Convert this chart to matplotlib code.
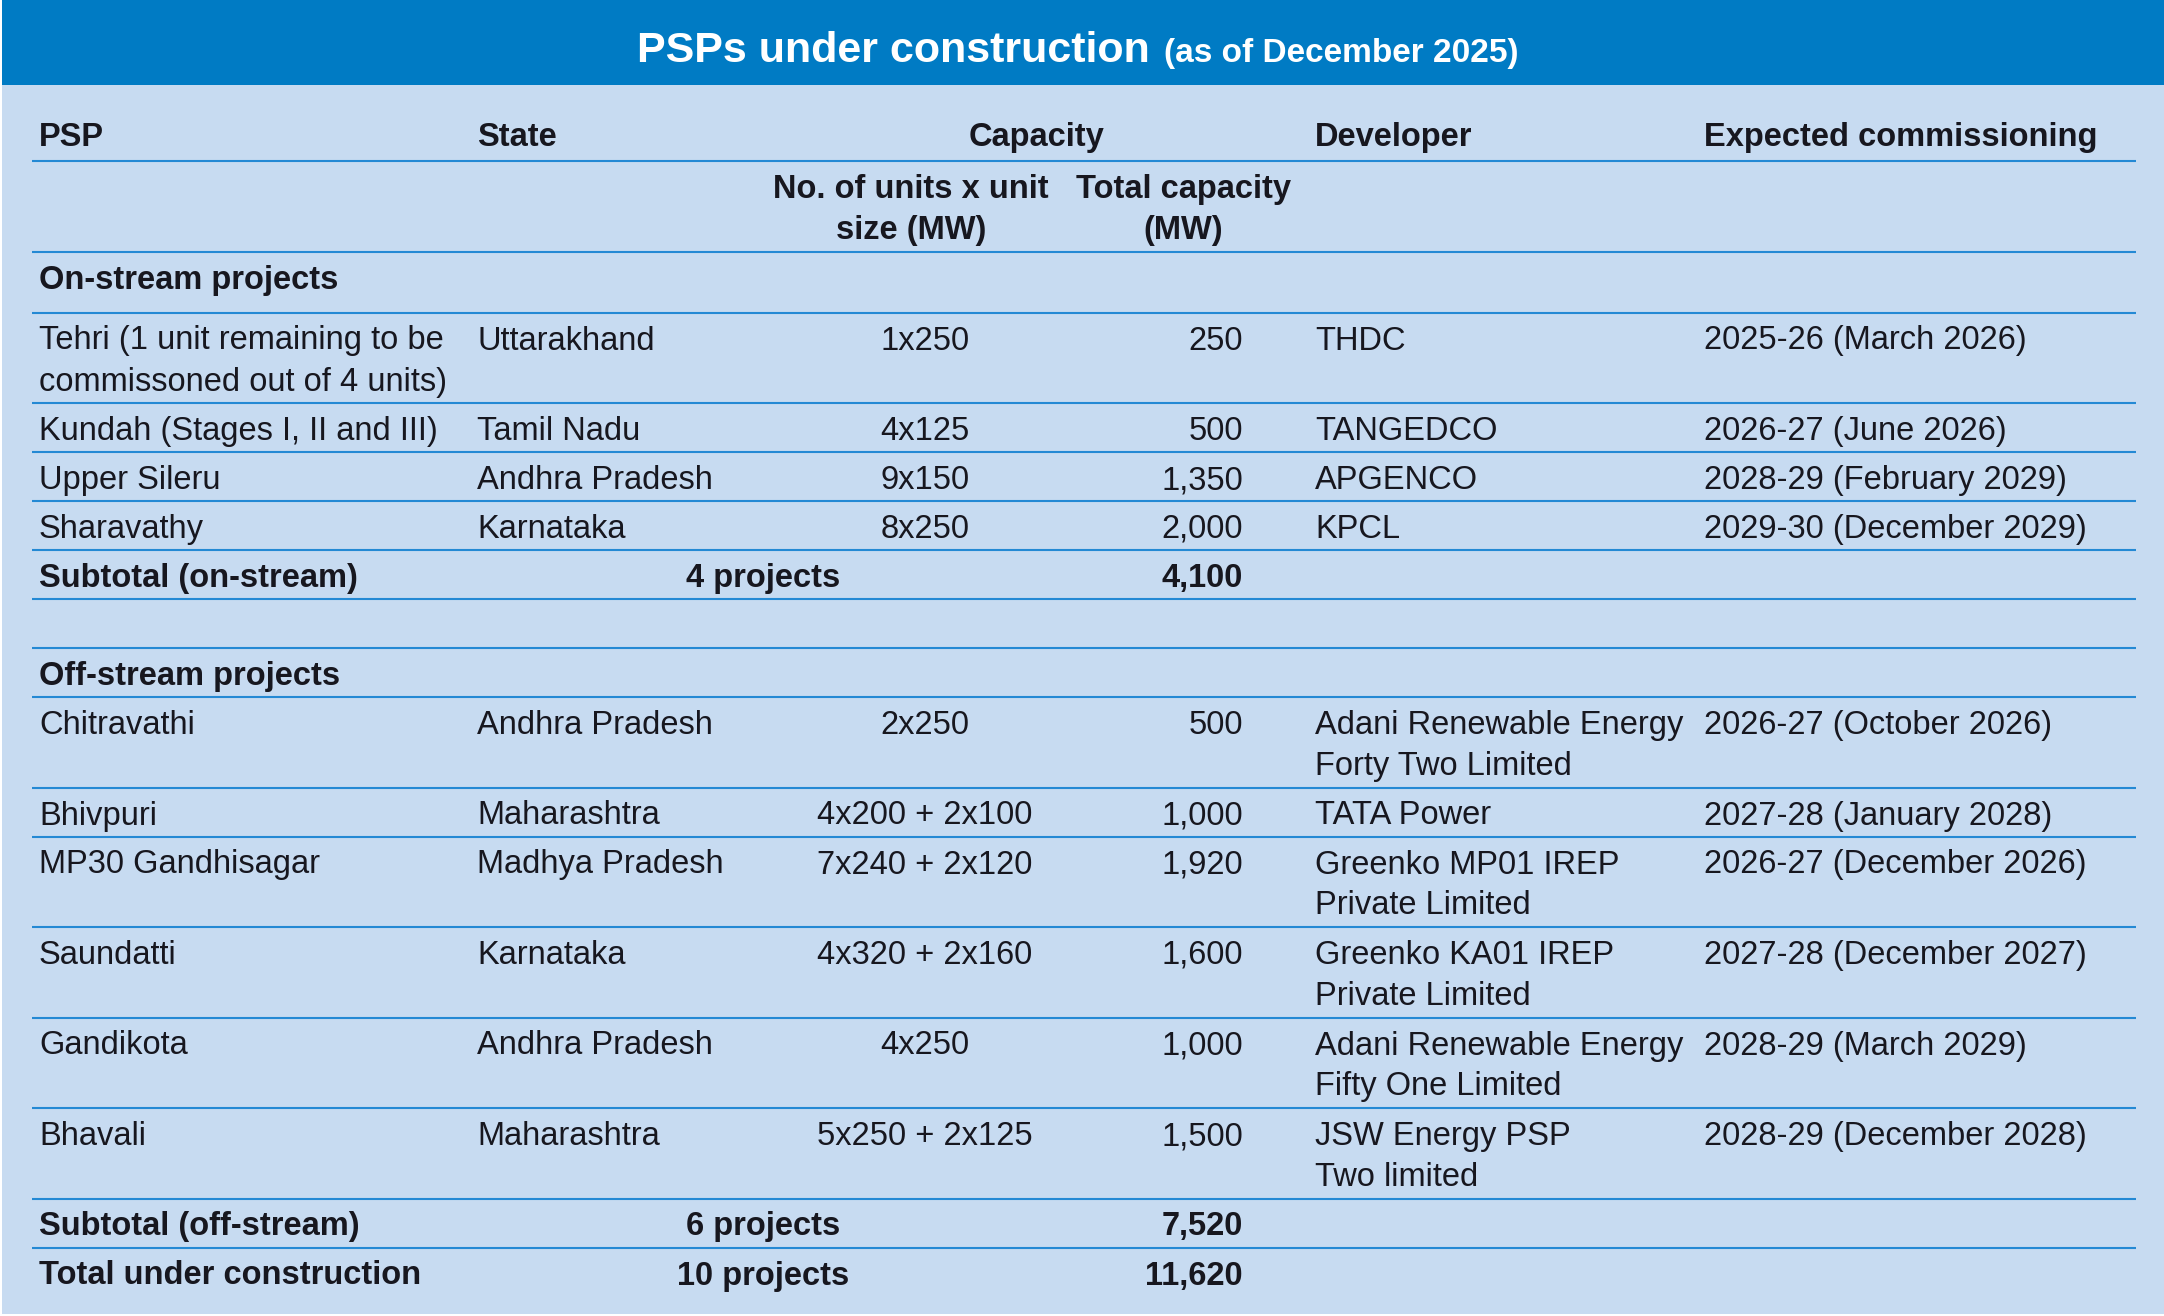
import matplotlib
matplotlib.use("Agg")
import matplotlib.pyplot as plt
from matplotlib.patches import Rectangle

# -----------------------------
# Table data
# -----------------------------
on_psp = ["Tehri (1 unit remaining to be\ncommissoned out of 4 units)",
          "Kundah (Stages I, II and III)", "Upper Sileru", "Sharavathy"]
on_state = ["Uttarakhand", "Tamil Nadu", "Andhra Pradesh", "Karnataka"]
on_units = ["1x250", "4x125", "9x150", "8x250"]
on_capacity = [250, 500, 1350, 2000]
on_developer = ["THDC", "TANGEDCO", "APGENCO", "KPCL"]
on_commissioning = ["2025-26 (March 2026)", "2026-27 (June 2026)",
                    "2028-29 (February 2029)", "2029-30 (December 2029)"]

off_psp = ["Chitravathi", "Bhivpuri", "MP30 Gandhisagar", "Saundatti",
           "Gandikota", "Bhavali"]
off_state = ["Andhra Pradesh", "Maharashtra", "Madhya Pradesh", "Karnataka",
             "Andhra Pradesh", "Maharashtra"]
off_units = ["2x250", "4x200 + 2x100", "7x240 + 2x120", "4x320 + 2x160",
             "4x250", "5x250 + 2x125"]
off_capacity = [500, 1000, 1920, 1600, 1000, 1500]
off_developer = ["Adani Renewable Energy\nForty Two Limited", "TATA Power",
                 "Greenko MP01 IREP\nPrivate Limited",
                 "Greenko KA01 IREP\nPrivate Limited",
                 "Adani Renewable Energy\nFifty One Limited",
                 "JSW Energy PSP\nTwo limited"]
off_commissioning = ["2026-27 (October 2026)", "2027-28 (January 2028)",
                     "2026-27 (December 2026)", "2027-28 (December 2027)",
                     "2028-29 (March 2029)", "2028-29 (December 2028)"]

headers = ["PSP", "State", "Capacity", "Developer", "Expected commissioning"]
sub_headers = ["No. of units x unit\nsize (MW)", "Total capacity\n(MW)"]

# -----------------------------
# Style
# -----------------------------
W, H = 2164, 1316
BAR = "#007bc4"
BG = "#c7dbf1"
RULE = "#2489d4"
INK = "#17171f"
FS = 23.5
FONT = ["Liberation Sans", "DejaVu Sans"]

X_PSP, X_STATE, X_UNITS, X_CAP, X_DEV, X_EXP = 39, 477, 925, 1243, 1315, 1704
X_PROJ = 763
LINE_L, LINE_R = 32, 2136
ROW1, ROW2, LEAD = 49, 90.5, 41

fig = plt.figure(figsize=(W / 100, H / 100), dpi=100)
fig.patch.set_facecolor("white")
ax = fig.add_axes([0, 0, 1, 1])
ax.set_xlim(0, W)
ax.set_ylim(H, 0)
ax.axis("off")

ax.add_patch(Rectangle((2, 0), W - 2, H - 2, facecolor=BG, edgecolor="none"))
ax.add_patch(Rectangle((2, 0), W - 2, 85, facecolor=BAR, edgecolor="none"))

# title: no condensed face installed, so a smaller bold face keeps the width
ax.text(1150, 62, "PSPs under construction", family=FONT, weight="bold",
        fontsize=31, color="white", ha="right", va="baseline")
ax.text(1164, 62, "(as of December 2025)", family=FONT, weight="bold",
        fontsize=24, color="white", ha="left", va="baseline")


def cell(x, top, txt, ha="left", bold=False):
    for i, line in enumerate(str(txt).split("\n")):
        ax.text(x, top + 37 + LEAD * i, line, family=FONT, fontsize=FS,
                weight="bold" if bold else "normal", color=INK,
                ha=ha, va="baseline")


def rule(y):
    ax.plot([LINE_L, LINE_R], [y, y], color=RULE, lw=1.5,
            solid_capstyle="butt")


# header
for x, h, ha in zip([X_PSP, X_STATE, 1037, X_DEV, X_EXP], headers,
                    ["left", "left", "center", "left", "left"]):
    ax.text(x, 146, h, family=FONT, fontsize=FS, weight="bold", color=INK,
            ha=ha, va="baseline")
y = 161
rule(y)
cell(911, y, sub_headers[0], ha="center", bold=True)
cell(1183, y, sub_headers[1], ha="center", bold=True)
y += ROW2
rule(y)


def section(y, label, psp, state, units, cap, dev, comm, sub_label):
    cell(X_PSP, y, label, bold=True)
    y += 61 if label.startswith("On") else ROW1
    rule(y)
    for row in zip(psp, state, units, cap, dev, comm):
        cell(X_PSP, y, row[0])
        cell(X_STATE, y, row[1])
        cell(X_UNITS, y, row[2], ha="center")
        cell(X_CAP, y, f"{row[3]:,}", ha="right")
        cell(X_DEV, y, row[4])
        cell(X_EXP, y, row[5])
        n = max(str(v).count("\n") for v in row) + 1
        y += ROW1 if n == 1 else ROW2
        rule(y)
    cell(X_PSP, y, sub_label, bold=True)
    cell(X_PROJ, y, f"{len(psp)} projects", ha="center", bold=True)
    cell(X_CAP, y, f"{sum(cap):,}", ha="right", bold=True)
    y += ROW1
    rule(y)
    return y


y = section(y, "On-stream projects", on_psp, on_state, on_units, on_capacity,
            on_developer, on_commissioning, "Subtotal (on-stream)")
y += ROW1
rule(y)
y = section(y, "Off-stream projects", off_psp, off_state, off_units,
            off_capacity, off_developer, off_commissioning,
            "Subtotal (off-stream)")

cell(X_PSP, y, "Total under construction", bold=True)
cell(X_PROJ, y, f"{len(on_psp) + len(off_psp)} projects", ha="center", bold=True)
cell(X_CAP, y, f"{sum(on_capacity) + sum(off_capacity):,}", ha="right", bold=True)

fig.savefig("out.png", dpi=100, facecolor=fig.get_facecolor())
